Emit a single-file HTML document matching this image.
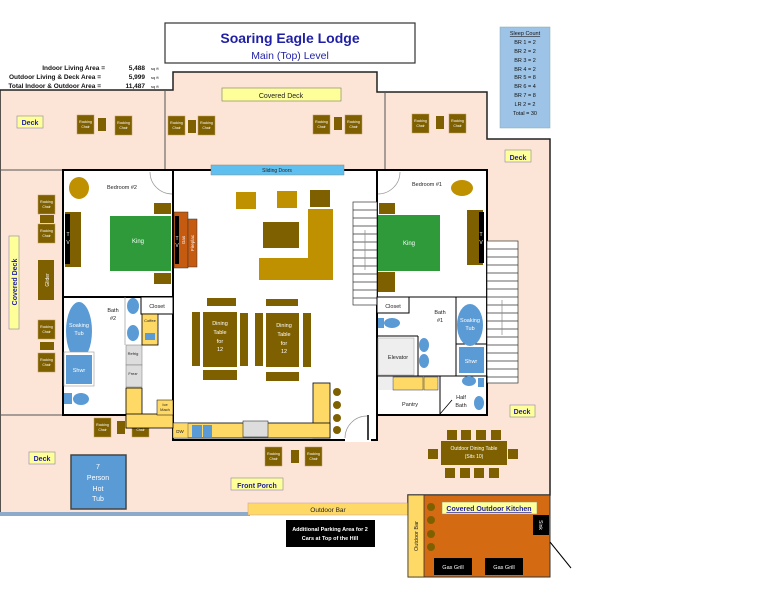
<!DOCTYPE html>
<html><head><meta charset="utf-8"><style>
html,body{margin:0;padding:0;background:#fff;}
svg{display:block;font-family:"Liberation Sans",sans-serif;}
</style></head><body>
<svg width="778" height="599" viewBox="0 0 778 599" xmlns="http://www.w3.org/2000/svg">
<defs>
<g id="rc"><rect width="17" height="19" fill="#7f6000" stroke="#bfa060" stroke-width="0.5"/><text x="8.5" y="8" font-size="3.5" fill="#fff" text-anchor="middle">Rocking</text><text x="8.5" y="13" font-size="3.5" fill="#fff" text-anchor="middle">Chair</text></g>
</defs>
<!-- deck background -->
<path d="M0,90 H173 V72 H377 V92 H487 V139 H550 V495 H408 V513 H0 Z" fill="#fce4d6" stroke="#222" stroke-width="1.5"/>
<line x1="165" y1="90" x2="165" y2="170" stroke="#555" stroke-width="1"/>
<line x1="385" y1="92" x2="385" y2="170" stroke="#555" stroke-width="1"/>
<line x1="0" y1="170" x2="63" y2="170" stroke="#555" stroke-width="1"/>
<line x1="0" y1="415" x2="63" y2="415" stroke="#555" stroke-width="1"/>
<rect x="0" y="512" width="250" height="4" fill="#8eaacb"/>
<!-- house interior -->
<path d="M63,170 H487 V415 H377 V440 H173 V415 H63 Z" fill="#fff"/>
<rect x="63" y="170" width="110" height="127" fill="none" stroke="#000" stroke-width="2"/>
<rect x="173" y="170" width="204" height="270" fill="none" stroke="#000" stroke-width="2"/>
<rect x="377" y="170" width="110" height="245" fill="none" stroke="#000" stroke-width="2"/>
<rect x="63" y="297" width="110" height="118" fill="none" stroke="#000" stroke-width="2"/>
<rect x="345" y="432" width="26" height="10" fill="#fff"/>
<path d="M345,438 A22,22 0 0 1 367,416" fill="none" stroke="#999" stroke-width="0.7"/>
<line x1="368" y1="415" x2="368" y2="440" stroke="#000" stroke-width="1.5"/>
<!-- door arcs top -->
<path d="M150,172 A22,22 0 0 0 172,194" fill="none" stroke="#999" stroke-width="0.7"/>
<path d="M400,172 A22,22 0 0 1 378,194" fill="none" stroke="#999" stroke-width="0.7"/>
<!-- title -->
<rect x="165" y="23" width="250" height="40" fill="#fff" stroke="#333" stroke-width="1.2"/>
<text x="290" y="43" font-size="14" font-weight="bold" fill="#1f1fa6" text-anchor="middle">Soaring Eagle Lodge</text>
<text x="290" y="59" font-size="10.5" fill="#1f1fa6" text-anchor="middle">Main (Top) Level</text>
<!-- stats -->
<g font-size="6.5" font-weight="bold" fill="#111">
<text x="105" y="70" text-anchor="end">Indoor Living Area =</text>
<text x="101" y="79" text-anchor="end">Outdoor Living &amp; Deck Area =</text>
<text x="101" y="88" text-anchor="end">Total Indoor &amp; Outdoor Area =</text>
<text x="145" y="70" text-anchor="end">5,488</text>
<text x="145" y="79" text-anchor="end">5,999</text>
<text x="145" y="88" text-anchor="end">11,487</text>
</g>
<g font-size="4" fill="#111"><text x="151" y="70">sq ft</text><text x="151" y="79">sq ft</text><text x="151" y="88">sq ft</text></g>
<!-- sleep count -->
<rect x="500" y="27" width="50" height="101" fill="#9dc3e6" stroke="#8aa" stroke-width="0.5"/>
<g font-size="5.5" fill="#111" text-anchor="middle">
<text x="525" y="35" text-decoration="underline">Sleep Count</text>
<text x="525" y="44">BR 1 = 2</text><text x="525" y="53">BR 2 = 2</text><text x="525" y="62">BR 3 = 2</text><text x="525" y="71">BR 4 = 2</text><text x="525" y="79">BR 5 = 8</text><text x="525" y="88">BR 6 = 4</text><text x="525" y="97">BR 7 = 8</text><text x="525" y="106">LR 2 = 2</text><text x="525" y="115">Total = 30</text>
</g>
<!-- labels -->
<g font-size="7" font-weight="bold" fill="#1f1fa6" text-anchor="middle">
<rect x="17" y="116" width="26" height="12" fill="#ffff99" stroke="#88a" stroke-width="0.6"/><text x="30" y="125">Deck</text>
<rect x="222" y="88" width="119" height="13" fill="#ffff99" stroke="#777" stroke-width="0.6"/><text x="281" y="98" fill="#222" font-weight="normal">Covered Deck</text>
<rect x="505" y="150" width="26" height="12" fill="#ffff99" stroke="#88a" stroke-width="0.6"/><text x="518" y="160">Deck</text>
<rect x="510" y="405" width="25" height="12" fill="#ffff99" stroke="#88a" stroke-width="0.6"/><text x="522" y="414">Deck</text>
<rect x="29" y="452" width="26" height="12" fill="#ffff99" stroke="#88a" stroke-width="0.6"/><text x="42" y="461">Deck</text>
<rect x="231" y="478" width="52" height="12" fill="#ffff99" stroke="#88a" stroke-width="0.6"/><text x="257" y="488">Front Porch</text>
<rect x="9" y="236" width="10" height="93" fill="#ffff99" stroke="#88a" stroke-width="0.6"/><text transform="translate(17,282) rotate(-90)">Covered  Deck</text>
</g>
<!-- top deck chairs -->
<use href="#rc" x="77" y="115"/><rect x="98" y="118" width="8" height="13" fill="#7f6000"/><use href="#rc" x="115" y="116"/>
<use href="#rc" x="168" y="116"/><rect x="188" y="120" width="8" height="13" fill="#7f6000"/><use href="#rc" x="198" y="116"/>
<use href="#rc" x="313" y="115"/><rect x="334" y="117" width="8" height="13" fill="#7f6000"/><use href="#rc" x="345" y="115"/>
<use href="#rc" x="412" y="114"/><rect x="436" y="116" width="8" height="13" fill="#7f6000"/><use href="#rc" x="449" y="114"/>
<!-- left column -->
<use href="#rc" x="38" y="195"/><rect x="40" y="215" width="14" height="8" fill="#7f6000"/><use href="#rc" x="38" y="224"/>
<rect x="38" y="260" width="16" height="40" fill="#7f6000"/><text transform="translate(49,280) rotate(-90)" font-size="5" fill="#fff" text-anchor="middle">Glider</text>
<use href="#rc" x="38" y="320"/><rect x="40" y="342" width="14" height="8" fill="#7f6000"/><use href="#rc" x="38" y="353"/>
<!-- bottom deck chairs -->
<use href="#rc" x="94" y="418"/><rect x="117" y="421" width="8" height="13" fill="#7f6000"/><use href="#rc" x="132" y="418"/>
<use href="#rc" x="265" y="447"/><rect x="291" y="450" width="8" height="13" fill="#7f6000"/><use href="#rc" x="305" y="447"/>
<!-- hot tub -->
<rect x="71" y="455" width="55" height="54" fill="#5b9bd5" stroke="#444" stroke-width="1.5"/>
<g font-size="7" fill="#fff" text-anchor="middle"><text x="98" y="469">7</text><text x="98" y="480">Person</text><text x="98" y="491">Hot</text><text x="98" y="501">Tub</text></g>
<!-- outdoor bar -->
<rect x="248" y="503" width="160" height="12" fill="#ffd966" stroke="#c9a" stroke-width="0.5"/>
<text x="328" y="512" font-size="6.5" fill="#222" text-anchor="middle">Outdoor  Bar</text>
<rect x="286" y="520" width="89" height="27" fill="#000"/>
<g font-size="5.5" font-weight="bold" fill="#fff" text-anchor="middle"><text x="330" y="531">Additional Parking Area for 2</text><text x="330" y="540">Cars at Top of the Hill</text></g>
<!-- outdoor kitchen -->
<rect x="408" y="495" width="142" height="82" fill="#d46b13" stroke="#333" stroke-width="1"/>
<rect x="408" y="495" width="16" height="82" fill="#ffd966" stroke="#333" stroke-width="0.8"/>
<text transform="translate(418,536) rotate(-90)" font-size="5.5" fill="#222" text-anchor="middle">Outdoor  Bar</text>
<rect x="442" y="502" width="95" height="12" fill="#ffff99" stroke="#888" stroke-width="0.5"/>
<text x="489" y="511" font-size="7" font-weight="bold" fill="#1f1fa6" text-anchor="middle" text-decoration="underline">Covered Outdoor Kitchen</text>
<rect x="533" y="515" width="16" height="20" fill="#000"/><text transform="translate(539,525) rotate(90)" font-size="5" fill="#fff" text-anchor="middle">Sink</text>
<rect x="434" y="558" width="38" height="17" fill="#000"/><text x="453" y="569" font-size="5.5" fill="#fff" text-anchor="middle">Gas Grill</text>
<rect x="485" y="558" width="38" height="17" fill="#000"/><text x="504" y="569" font-size="5.5" fill="#fff" text-anchor="middle">Gas Grill</text>
<g fill="#7f6000"><circle cx="431" cy="507" r="4"/><circle cx="431" cy="520" r="4"/><circle cx="431" cy="534" r="4"/><circle cx="431" cy="547" r="4"/></g>
<line x1="550" y1="542" x2="571" y2="568" stroke="#000" stroke-width="1"/>
<!-- outdoor dining -->
<rect x="441" y="441" width="66" height="24" fill="#7f6000"/>
<g font-size="5" fill="#fff" text-anchor="middle"><text x="474" y="450">Outdoor Dining Table</text><text x="474" y="458">(Sits 10)</text></g>
<g fill="#7f6000"><rect x="447" y="430" width="10" height="10"/><rect x="461" y="430" width="10" height="10"/><rect x="476" y="430" width="10" height="10"/><rect x="491" y="430" width="10" height="10"/>
<rect x="445" y="468" width="10" height="10"/><rect x="460" y="468" width="10" height="10"/><rect x="474" y="468" width="10" height="10"/><rect x="489" y="468" width="10" height="10"/>
<rect x="428" y="449" width="10" height="10"/><rect x="508" y="449" width="10" height="10"/></g>
<!-- sliding doors -->
<rect x="211" y="165" width="133" height="10" fill="#5fbfef" stroke="#888" stroke-width="0.5"/>
<text x="277" y="172" font-size="5" fill="#222" text-anchor="middle">Sliding Doors</text>
<!-- bedroom 2 -->
<text x="122" y="189" font-size="5.5" fill="#222" text-anchor="middle">Bedroom #2</text>
<ellipse cx="79" cy="188" rx="10" ry="11" fill="#bf9000"/>
<rect x="65" y="212" width="16" height="55" fill="#7f6000"/><rect x="65" y="214" width="5" height="50" fill="#000"/>
<text x="68" y="236" font-size="5" fill="#fff" text-anchor="middle">T</text><text x="68" y="244" font-size="5" fill="#fff" text-anchor="middle">V</text>
<rect x="110" y="216" width="61" height="55" fill="#2e9a3a"/><text x="138" y="243" font-size="6" fill="#fff" text-anchor="middle">King</text>
<rect x="154" y="203" width="17" height="11" fill="#7f6000"/><rect x="154" y="273" width="17" height="11" fill="#7f6000"/>
<!-- fireplace -->
<rect x="174" y="212" width="14" height="56" fill="#c55a11" stroke="#333" stroke-width="0.5"/><rect x="175" y="216" width="4" height="48" fill="#000"/>
<text x="177" y="240" font-size="5" fill="#fff" text-anchor="middle">T</text><text x="177" y="247" font-size="5" fill="#fff" text-anchor="middle">V</text>
<rect x="188" y="219" width="9" height="48" fill="#c55a11" stroke="#333" stroke-width="0.5"/>
<text transform="translate(185,240) rotate(-90)" font-size="4.5" fill="#fff" text-anchor="middle">Gas</text>
<text transform="translate(194,243) rotate(-90)" font-size="4.5" fill="#fff" text-anchor="middle">Fireplac</text>
<!-- living -->
<rect x="236" y="192" width="20" height="17" fill="#bf9000"/><rect x="277" y="191" width="20" height="17" fill="#bf9000"/><rect x="310" y="190" width="20" height="17" fill="#7f6000"/>
<rect x="259" y="258" width="74" height="22" fill="#bf9000"/><rect x="308" y="209" width="25" height="71" fill="#bf9000"/>
<rect x="263" y="222" width="36" height="26" fill="#7f6000"/>
<!-- stairs left -->
<g stroke="#333" stroke-width="0.7" fill="#fff">
<rect x="353" y="202" width="24" height="103"/>
<path d="M353,210H377M353,218H377M353,226H377M353,234H377M353,242H377M353,250H377M353,258H377M353,266H377M353,274H377M353,282H377M353,290H377M353,298H377"/>
<line x1="365" y1="230" x2="365" y2="270" stroke="#888"/>
<rect x="487" y="241" width="31" height="142"/>
<path d="M487,249H518M487,257H518M487,265H518M487,273H518M487,281H518M487,289H518M487,297H518M487,305H518M487,313H518M487,321H518M487,329H518M487,337H518M487,345H518M487,353H518M487,361H518M487,369H518M487,377H518"/>
<line x1="502" y1="300" x2="502" y2="335" stroke="#888"/>
</g>
<!-- dining -->
<g fill="#7f6000">
<rect x="203" y="312" width="34" height="55"/><rect x="207" y="298" width="29" height="8"/><rect x="203" y="370" width="34" height="10"/><rect x="192" y="312" width="8" height="54"/><rect x="240" y="313" width="8" height="53"/>
<rect x="266" y="313" width="33" height="54"/><rect x="266" y="299" width="32" height="7"/><rect x="266" y="372" width="33" height="9"/><rect x="255" y="313" width="8" height="53"/><rect x="303" y="313" width="8" height="54"/>
<circle cx="337" cy="392" r="4"/><circle cx="337" cy="405" r="4"/><circle cx="337" cy="418" r="4"/><circle cx="337" cy="430" r="4"/>
</g>
<g font-size="5.5" fill="#fff" text-anchor="middle"><text x="220" y="325">Dining</text><text x="220" y="334">Table</text><text x="220" y="343">for</text><text x="220" y="351">12</text>
<text x="284" y="327">Dining</text><text x="284" y="336">Table</text><text x="284" y="345">for</text><text x="284" y="353">12</text></g>
<!-- kitchen -->
<rect x="313" y="383" width="17" height="55" fill="#ffd966" stroke="#000" stroke-width="0.8"/>
<rect x="173" y="423" width="157" height="15" fill="#ffd966" stroke="#000" stroke-width="0.8"/>
<rect x="173" y="423" width="15" height="15" fill="#ffd966" stroke="#555" stroke-width="0.5"/><text x="180" y="433" font-size="4.5" fill="#222" text-anchor="middle">DW</text>
<rect x="192" y="425" width="10" height="12" fill="#5b9bd5"/><rect x="203" y="425" width="9" height="12" fill="#5b9bd5"/>
<rect x="243" y="421" width="25" height="16" fill="#ddd" stroke="#333" stroke-width="0.6"/>
<rect x="126" y="388" width="16" height="40" fill="#ffd966" stroke="#000" stroke-width="0.8"/><rect x="126" y="414" width="47" height="14" fill="#ffd966" stroke="#000" stroke-width="0.8"/>
<rect x="157" y="400" width="16" height="15" fill="#ffd966" stroke="#000" stroke-width="0.5"/><text x="165" y="406" font-size="4" fill="#222" text-anchor="middle">Ice</text><text x="165" y="411" font-size="4" fill="#222" text-anchor="middle">Mach</text>
<rect x="126" y="345" width="16" height="20" fill="#ddd" stroke="#777" stroke-width="0.5"/><text x="133" y="355" font-size="4" fill="#222" text-anchor="middle">Refrig</text>
<rect x="126" y="365" width="16" height="22" fill="#ddd" stroke="#777" stroke-width="0.5"/><text x="133" y="375" font-size="4" fill="#222" text-anchor="middle">Frezr</text>
<rect x="141" y="297" width="32" height="17" fill="#fff" stroke="#000" stroke-width="1"/><text x="157" y="308" font-size="5.5" fill="#222" text-anchor="middle">Closet</text>
<rect x="142" y="314" width="16" height="31" fill="#ffd966" stroke="#000" stroke-width="0.8"/><text x="150" y="322" font-size="4" fill="#222" text-anchor="middle">Coffee</text><rect x="145" y="333" width="10" height="7" fill="#5b9bd5"/>
<!-- bath 2 -->
<line x1="125" y1="297" x2="125" y2="345" stroke="#999" stroke-width="0.7"/>
<ellipse cx="79" cy="331" rx="13" ry="29" fill="#5b9bd5"/><text x="79" y="327" font-size="5.5" fill="#fff" text-anchor="middle">Soaking</text><text x="79" y="335" font-size="5.5" fill="#fff" text-anchor="middle">Tub</text>
<rect x="64" y="352" width="30" height="34" fill="#fff" stroke="#999" stroke-width="0.6"/><rect x="66" y="355" width="26" height="29" fill="#5b9bd5"/><text x="79" y="372" font-size="5.5" fill="#fff" text-anchor="middle">Shwr</text>
<rect x="64" y="393" width="8" height="11" fill="#5b9bd5"/><ellipse cx="81" cy="399" rx="8" ry="6" fill="#5b9bd5"/>
<ellipse cx="133" cy="306" rx="6" ry="8" fill="#5b9bd5"/><ellipse cx="133" cy="333" rx="6" ry="8" fill="#5b9bd5"/>
<text x="113" y="312" font-size="5.5" fill="#222" text-anchor="middle">Bath</text><text x="113" y="320" font-size="5.5" fill="#222" text-anchor="middle">#2</text>
<!-- bedroom 1 -->
<text x="427" y="186" font-size="5.5" fill="#222" text-anchor="middle">Bedroom #1</text>
<ellipse cx="462" cy="188" rx="11" ry="8" fill="#bf9000"/>
<rect x="378" y="215" width="62" height="56" fill="#2e9a3a"/><text x="409" y="245" font-size="6" fill="#fff" text-anchor="middle">King</text>
<rect x="379" y="203" width="16" height="11" fill="#7f6000"/><rect x="378" y="272" width="17" height="20" fill="#7f6000"/>
<rect x="467" y="210" width="16" height="55" fill="#7f6000"/><rect x="479" y="212" width="5" height="51" fill="#000"/>
<text x="481" y="236" font-size="5" fill="#fff" text-anchor="middle">T</text><text x="481" y="244" font-size="5" fill="#fff" text-anchor="middle">V</text>
<!-- bath 1 area -->
<g stroke="#000" stroke-width="1" fill="none">
<line x1="377" y1="297" x2="487" y2="297"/>
<rect x="377" y="297" width="32" height="16" fill="#fff"/>
<line x1="377" y1="336" x2="418" y2="336"/>
<line x1="456" y1="297" x2="456" y2="376"/>
<line x1="456" y1="344" x2="487" y2="344"/>
<rect x="377" y="376" width="110" height="39"/>
<line x1="440" y1="376" x2="440" y2="415"/>
<line x1="418" y1="336" x2="418" y2="376"/>
</g>
<text x="393" y="308" font-size="5.5" fill="#222" text-anchor="middle">Closet</text>
<rect x="378" y="318" width="6" height="10" fill="#5b9bd5"/><ellipse cx="392" cy="323" rx="8" ry="5" fill="#5b9bd5"/>
<text x="440" y="314" font-size="5.5" fill="#222" text-anchor="middle">Bath</text><text x="440" y="322" font-size="5.5" fill="#222" text-anchor="middle">#1</text>
<ellipse cx="470" cy="325" rx="13" ry="21" fill="#5b9bd5"/><text x="470" y="322" font-size="5.5" fill="#fff" text-anchor="middle">Soaking</text><text x="470" y="330" font-size="5.5" fill="#fff" text-anchor="middle">Tub</text>
<rect x="459" y="347" width="25" height="26" fill="#5b9bd5"/><text x="471" y="363" font-size="5.5" fill="#fff" text-anchor="middle">Shwr</text>
<rect x="378" y="338" width="36" height="37" fill="#eee" stroke="#999" stroke-width="0.5"/><text x="398" y="359" font-size="5.5" fill="#222" text-anchor="middle">Elevator</text>
<ellipse cx="424" cy="345" rx="5" ry="7" fill="#5b9bd5"/><ellipse cx="424" cy="361" rx="5" ry="7" fill="#5b9bd5"/>
<rect x="378" y="377" width="14" height="13" fill="#eee"/><rect x="393" y="377" width="30" height="13" fill="#ffd966" stroke="#333" stroke-width="0.5"/><rect x="424" y="377" width="14" height="13" fill="#ffd966" stroke="#333" stroke-width="0.5"/>
<text x="410" y="406" font-size="5.5" fill="#222" text-anchor="middle">Pantry</text>
<text x="461" y="399" font-size="5.5" fill="#222" text-anchor="middle">Half</text><text x="461" y="407" font-size="5.5" fill="#222" text-anchor="middle">Bath</text>
<ellipse cx="469" cy="381" rx="7" ry="5" fill="#5b9bd5"/><rect x="478" y="378" width="6" height="9" fill="#5b9bd5"/>
<ellipse cx="479" cy="403" rx="5" ry="7" fill="#5b9bd5"/>
<line x1="440" y1="414" x2="452" y2="400" stroke="#000" stroke-width="0.8"/>
</svg>
</body></html>
